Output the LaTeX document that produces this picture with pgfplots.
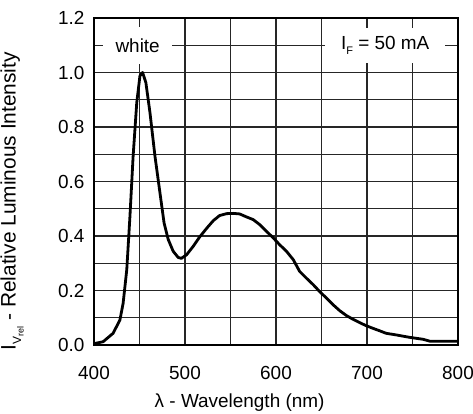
\documentclass[border=0pt]{standalone}
\usepackage{fontspec}
\setmainfont{Liberation Sans}
\usepackage{pgfplots}
\pgfplotsset{compat=1.18}
\newcommand{\fs}{\fontsize{19}{22}\selectfont}
\newcommand{\sub}[1]{\raisebox{-0.5ex}{\fontsize{11}{11}\selectfont #1}}
\begin{document}
\begin{tikzpicture}
\begin{axis}[
  name=ax, at={(0,0)}, anchor=south west,
  scale only axis, width=364bp, height=327bp,
  xmin=400, xmax=800, ymin=0, ymax=1.2,
  xtick={400,500,600,700,800}, minor xtick={450,550,650,750},
  ytick={0,0.2,0.4,0.6,0.8,1.0,1.2}, minor ytick={0.1,0.3,0.5,0.7,0.9,1.1},
  grid=both,
  major grid style={line width=1.2bp, color=black!85},
  minor grid style={line width=1.2bp, color=black!85},
  axis line style={line width=1.8bp},
  major tick length=0pt, minor tick length=0pt,
  /pgf/number format/assume math mode=true,
  ticklabel style={font=\fs},
  yticklabel style={/pgf/number format/fixed, /pgf/number format/fixed zerofill, /pgf/number format/precision=1, xshift=-6bp},
  xticklabel style={yshift=-18bp},
  xlabel={λ - Wavelength (nm)},
  ylabel={I\raisebox{-0.5ex}{\fontsize{12}{12}\selectfont V\raisebox{-0.4ex}{\fontsize{9}{9}\selectfont rel}} - Relative Luminous Intensity},
  every axis x label/.style={at={(axis description cs:0.40,-0.19)}, anchor=base, font=\fs},
  every axis y label/.style={at={(axis description cs:-0.225,0.44)}, rotate=90, anchor=center, font=\fontsize{21}{24}\selectfont},
]
\addplot[black, line width=2.8bp, line join=round] coordinates {
(400,0.005) (410,0.012) (421,0.043) (428.5,0.092) (432,0.153) (436,0.276)
(439.5,0.472) (443,0.693) (447,0.89) (450.5,0.988) (453.4,1.0) (457,0.963)
(461.5,0.853) (467,0.693) (472.5,0.558) (477,0.448) (481.6,0.387) (487,0.344)
(492.6,0.321) (496,0.318) (501.7,0.331) (509,0.362) (516,0.396) (524,0.429)
(531,0.456) (538,0.475) (545.7,0.482) (553,0.483) (560,0.481) (567.6,0.47)
(575,0.46) (582,0.442) (589.6,0.417) (597,0.393) (604,0.368) (611.5,0.344)
(619,0.313) (626,0.27) (633.5,0.245) (641,0.221) (648,0.196) (655.5,0.172)
(663,0.147) (670,0.126) (677.4,0.108) (684.8,0.094) (692,0.082) (699,0.071)
(706.7,0.061) (714,0.052) (721,0.043) (732,0.037) (747,0.028) (761.6,0.021)
(769,0.014) (800,0.014)
};
\node[fill=white, inner sep=0pt, minimum width=69bp, minimum height=37bp, font=\fs] at (axis cs:448,1.1) {white};
\node[fill=white, inner sep=0pt, minimum width=120bp, minimum height=35bp, font=\fs] at (axis cs:720,1.1) {I\sub{F} = 50 mA};
\node[anchor=base, font=\fontsize{13}{15}\selectfont] at (axis description cs:-0.14,-0.19) {16071};
\end{axis}
\pgfresetboundingbox
\path ([shift={(-94bp,-69bp)}]ax.south west) rectangle ([shift={(15bp,18bp)}]ax.north east);
\end{tikzpicture}
\end{document}
